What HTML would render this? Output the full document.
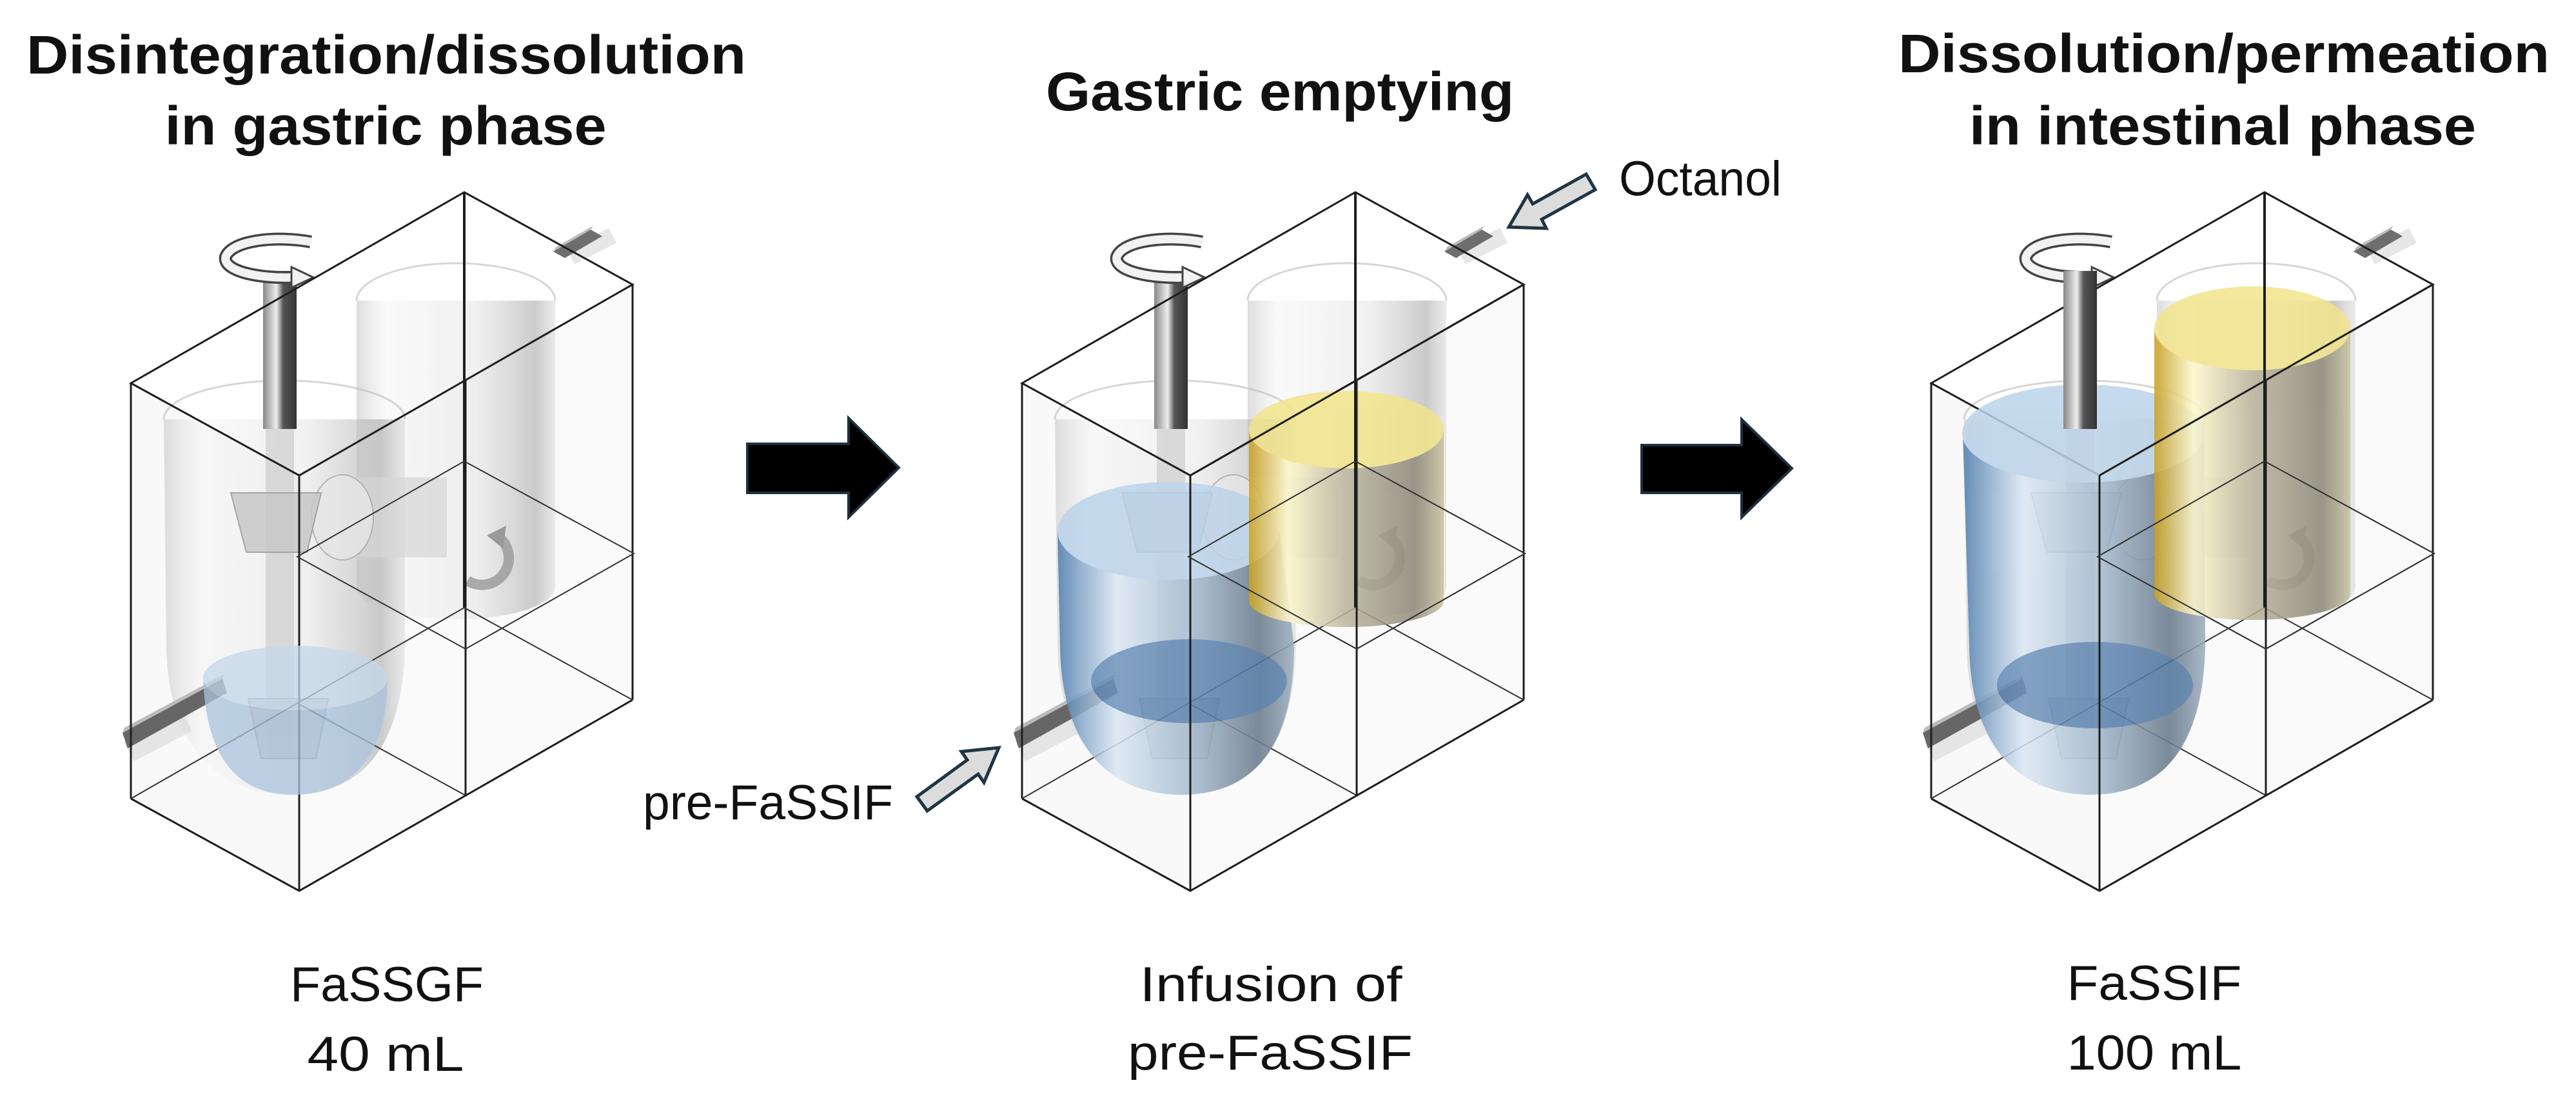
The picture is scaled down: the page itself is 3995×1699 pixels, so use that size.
<!DOCTYPE html>
<html><head><meta charset="utf-8"><style>
html,body{margin:0;padding:0;background:#fff;}
svg{display:block;}
text{font-family:"Liberation Sans",sans-serif;fill:#111;}
.t{font-weight:bold;font-size:84px;}
.l{font-size:76px;}
</style></head><body>
<svg width="3995" height="1699" viewBox="0 0 3995 1699" xmlns="http://www.w3.org/2000/svg">
<defs>
<linearGradient id="glass" x1="0" x2="1" y1="0" y2="0">
<stop offset="0" stop-color="#cfcfcf" stop-opacity=".7"/><stop offset=".15" stop-color="#f4f4f4" stop-opacity=".5"/>
<stop offset=".6" stop-color="#e2e2e2" stop-opacity=".5"/><stop offset=".9" stop-color="#a9a9a9" stop-opacity=".6"/><stop offset="1" stop-color="#d8d8d8" stop-opacity=".5"/></linearGradient>
<linearGradient id="blue" x1="0" x2="1" y1="0" y2="0">
<stop offset="0" stop-color="#4f7eb0"/><stop offset=".25" stop-color="#dbe7f3"/><stop offset=".55" stop-color="#a9bed3"/><stop offset=".85" stop-color="#6c7e90"/><stop offset="1" stop-color="#9fb0c2"/></linearGradient>
<linearGradient id="yel" x1="0" x2="1" y1="0" y2="0">
<stop offset="0" stop-color="#c9a020"/><stop offset=".2" stop-color="#fff8cc"/><stop offset=".5" stop-color="#b9b39a"/><stop offset=".85" stop-color="#8e8b7c"/><stop offset="1" stop-color="#c9c3a0"/></linearGradient>
<linearGradient id="shaft" x1="0" x2="1"><stop offset="0" stop-color="#888"/><stop offset=".4" stop-color="#eee"/><stop offset=".6" stop-color="#555"/><stop offset="1" stop-color="#333"/></linearGradient>
<g id="app">
 <polygon points="203,594 464,737 464,1381 203,1238" fill="#000" fill-opacity=".025"/>
 <polygon points="464,737 981,441 981,1085 464,1381" fill="#000" fill-opacity=".02"/>
 <!-- top pipe -->
 <line x1="885" y1="398" x2="950" y2="365" stroke="#ddd" stroke-width="26" opacity=".7"/>
 <polygon points="858,390 916,356 934,366 876,400" fill="#6e6e6e"/>
 <polygon points="858,390 916,356 920,350 862,383" fill="#bbb"/>
 <!-- right vessel -->
 <path d="M553,466 L553,910 A154,50 0 0 0 861,910 L861,466 Z" fill="url(#glass)"/>
 <path d="M553,466 A154,58 0 0 1 861,466" fill="none" stroke="#bbb" stroke-width="3" opacity=".6"/>
 <!-- left vessel -->
 <path d="M254,650 L258,1000 C260,1180 360,1232 450,1232 C560,1232 625,1160 628,1000 L628,650 Z" fill="url(#glass)"/>
 <path d="M254,650 A187,60 0 0 1 628,650" fill="none" stroke="#bbb" stroke-width="3" opacity=".6"/>
 <!-- connecting tube -->
 <path d="M531,740 L693,740 L693,864 L531,864 Z" fill="#d6d6d6" opacity=".7"/>
 <ellipse cx="531" cy="802" rx="48" ry="66" fill="#e6e6e6" stroke="#aaa" stroke-width="2" opacity=".8"/>
 <path d="M725,900 A40,40 0 1 0 770,830" fill="none" stroke="#999" stroke-width="16" opacity=".8"/>
 <polygon points="755,830 785,815 780,850" fill="#999"/>
 <rect x="408" y="420" width="52" height="245" fill="url(#shaft)"/>
 <rect x="412" y="665" width="44" height="510" fill="#bbb" opacity=".45"/>
 <polygon points="358,764 498,764 476,856 382,856" fill="#c8c8c8" stroke="#999" stroke-width="2" opacity=".85"/>
 <polygon points="385,1083 509,1083 490,1176 405,1176" fill="#c8c8c8" stroke="#999" stroke-width="2" opacity=".85"/>
 <path d="M482,375 C430,365 360,372 350,398 C345,420 400,432 455,430" fill="none" stroke="#444" stroke-width="20"/>
 <path d="M482,375 C430,365 360,372 350,398 C345,420 400,432 455,430" fill="none" stroke="#f2f2f2" stroke-width="13"/>
 <polygon points="452,414 486,430 452,446" fill="#f2f2f2" stroke="#444" stroke-width="3"/>
 <!-- lower-left pipe -->
 <line x1="200" y1="1165" x2="290" y2="1118" stroke="#ddd" stroke-width="34" opacity=".7"/>
 <polygon points="190,1136 345,1052 352,1074 198,1160" fill="#666"/>
 <polygon points="190,1136 345,1052 348,1045 193,1128" fill="#bbb"/>
 <g fill="none" stroke="#1e1e1e" stroke-width="3">
  <polygon points="203,594 720,298 981,441 464,737"/>
  <line x1="203" y1="594" x2="203" y2="1238"/>
  <line x1="464" y1="737" x2="464" y2="1381"/>
  <line x1="981" y1="441" x2="981" y2="1085"/>
  <line x1="720" y1="298" x2="720" y2="942" stroke-width="4"/>
  <line x1="722" y1="589" x2="722" y2="1233"/>
  <polyline points="203,1238 464,1381 981,1085"/>
 </g>
 <g fill="none" stroke="#333" stroke-width="2">
  <polyline points="203,1238 720,942 981,1085"/>
  <polygon points="461,863 720,715 983,858 722,1006"/>
  <line x1="461" y1="1090" x2="722" y2="1233"/>
 </g>
</g>
</defs>

<text class="t" x="599" y="114" text-anchor="middle" textLength="1116" lengthAdjust="spacingAndGlyphs">Disintegration/dissolution</text>
<text class="t" x="598" y="224" text-anchor="middle" textLength="685" lengthAdjust="spacingAndGlyphs">in gastric phase</text>
<text class="t" x="1985" y="171" text-anchor="middle" textLength="726" lengthAdjust="spacingAndGlyphs">Gastric emptying</text>
<text class="t" x="3449" y="112" text-anchor="middle" textLength="1010" lengthAdjust="spacingAndGlyphs">Dissolution/permeation</text>
<text class="t" x="3447" y="224" text-anchor="middle" textLength="786" lengthAdjust="spacingAndGlyphs">in intestinal phase</text>

<use href="#app"/>
<g opacity=".75">
 <path d="M315,1051 C320,1190 380,1232 455,1232 C540,1232 600,1180 601,1051 Z" fill="#a9c3dd"/>
 <ellipse cx="458" cy="1051" rx="143" ry="50" fill="#c5d7ea"/>
</g>

<g transform="translate(1382,0)">
 <use href="#app"/>
 <g opacity=".85">
  <path d="M258,823 L262,1000 C264,1180 360,1232 450,1232 C560,1232 625,1160 625,1000 L602,823 Z" fill="url(#blue)"/>
  <ellipse cx="430" cy="823" rx="172" ry="76" fill="#bcd3ea"/>
  <ellipse cx="462" cy="1056" rx="152" ry="65" fill="#4a77a8" opacity=".75"/>
 </g>
 <g opacity=".85">
  <path d="M555,666 L555,932 A151,40 0 0 0 857,932 L857,666 Z" fill="url(#yel)"/>
  <ellipse cx="706" cy="666" rx="151" ry="60" fill="#f1e48a"/>
 </g>
 <g fill="none" stroke="#1e1e1e" stroke-width="3">
  <line x1="464" y1="737" x2="464" y2="1381"/>
  <line x1="722" y1="589" x2="722" y2="1233"/>
  <line x1="720" y1="298" x2="720" y2="942" stroke-width="4"/>
  <polyline points="464,737 981,441"/>
 </g>
 <g fill="none" stroke="#333" stroke-width="2"><polygon points="461,863 720,715 983,858 722,1006"/></g>
</g>

<g transform="translate(2792,0)">
 <use href="#app"/>
 <g opacity=".85">
  <path d="M252,672 L262,1000 C264,1180 360,1232 450,1232 C560,1232 625,1160 628,1000 L626,672 Z" fill="url(#blue)"/>
  <ellipse cx="439" cy="672" rx="188" ry="76" fill="#bcd3ea"/>
  <ellipse cx="457" cy="1062" rx="152" ry="67" fill="#4a77a8" opacity=".75"/>
 </g>
 <g opacity=".85">
  <path d="M549,509 L549,921 A152,40 0 0 0 853,921 L853,509 Z" fill="url(#yel)"/>
  <ellipse cx="701" cy="509" rx="152" ry="65" fill="#f1e48a"/>
 </g>
 <rect x="408" y="420" width="52" height="245" fill="url(#shaft)"/>
 <g fill="none" stroke="#1e1e1e" stroke-width="3">
  <line x1="464" y1="737" x2="464" y2="1381"/>
  <line x1="722" y1="589" x2="722" y2="1233"/>
  <line x1="720" y1="298" x2="720" y2="942" stroke-width="4"/>
  <polyline points="464,737 981,441"/>
 </g>
 <g fill="none" stroke="#333" stroke-width="2"><polygon points="461,863 720,715 983,858 722,1006"/></g>
</g>

<polygon points="1159,688 1316,688 1316,648 1394,725 1316,802 1316,764 1159,764" fill="#000" stroke="#1d3240" stroke-width="4"/>
<polygon points="2546,690 2701,690 2701,650 2779,726 2701,802 2701,764 2546,764" fill="#000" stroke="#1d3240" stroke-width="4"/>

<polygon points="1438,1257 1517,1200 1526,1213 1549,1159 1491,1165 1500,1178 1422,1235" fill="#dcdcdc" stroke="#1f3544" stroke-width="5"/>
<polygon points="2474,294 2391,340 2398,354 2340,352 2369,302 2377,316 2460,270" fill="#dcdcdc" stroke="#1f3544" stroke-width="5"/>

<text class="l" x="1191" y="1270" text-anchor="middle" textLength="388" lengthAdjust="spacingAndGlyphs">pre-FaSSIF</text>
<text class="l" x="2637" y="303" text-anchor="middle" textLength="252" lengthAdjust="spacingAndGlyphs">Octanol</text>
<text class="l" x="600" y="1552" text-anchor="middle" textLength="300" lengthAdjust="spacingAndGlyphs">FaSSGF</text>
<text class="l" x="598" y="1660" text-anchor="middle" textLength="243" lengthAdjust="spacingAndGlyphs">40 mL</text>
<text class="l" x="1971" y="1552" text-anchor="middle" textLength="407" lengthAdjust="spacingAndGlyphs">Infusion of</text>
<text class="l" x="1970" y="1658" text-anchor="middle" textLength="442" lengthAdjust="spacingAndGlyphs">pre-FaSSIF</text>
<text class="l" x="3341" y="1550" text-anchor="middle" textLength="271" lengthAdjust="spacingAndGlyphs">FaSSIF</text>
<text class="l" x="3341" y="1658" text-anchor="middle" textLength="271" lengthAdjust="spacingAndGlyphs">100 mL</text>
</svg>
</body></html>
